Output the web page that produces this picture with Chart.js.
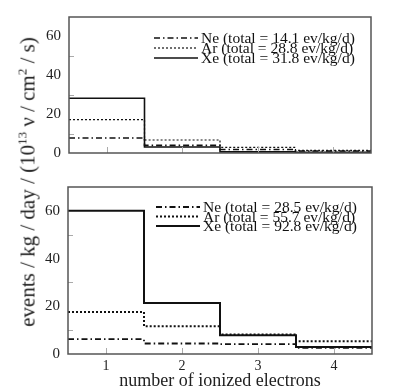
<!DOCTYPE html>
<html>
<head>
<meta charset="utf-8">
<script src="https://cdn.jsdelivr.net/npm/chart.js@4.4.0/dist/chart.umd.min.js"></script>
<style>
  body { margin: 0; background: #fff; width: 415px; height: 392px; position: relative; overflow: hidden; }
  canvas { position: absolute; left: 0; }
  #topChart { top: 0; }
  #bottomChart { top: 170px; }
  #ytitle {
    position: absolute; left: 28px; top: 182px;
    transform: translate(-50%, -50%) rotate(-90deg);
    white-space: nowrap; font: 21px 'Liberation Serif', serif; color: #222;
  }
  #ytitle sup { font-size: 13px; line-height: 0; }
</style>
</head>
<body>
<canvas id="topChart" width="415" height="170"></canvas>
<canvas id="bottomChart" width="415" height="222"></canvas>
<div id="ytitle">events / kg / day / (10<sup>13</sup> ν / cm<sup>2</sup> / s)</div>
<script>
// bins (number of ionized electrons)
const bins = [1, 2, 3, 4];

// top panel
const topNe = [7.7, 3.9, 1.8, 1.0];
const topAr = [17.2, 6.7, 2.9, 1.3];
const topXe = [28.2, 3.1, 0.6, 0.3];
const topLabels = ['Ne (total = 14.1 ev/kg/d)', 'Ar (total = 28.8 ev/kg/d)', 'Xe (total = 31.8 ev/kg/d)'];

// bottom panel
const botNe = [6.2, 4.4, 4.1, 2.6];
const botAr = [17.6, 11.6, 8.2, 5.3];
const botXe = [60, 21.4, 7.9, 2.9];
const botLabels = ['Ne (total = 28.5 ev/kg/d)', 'Ar (total = 55.7 ev/kg/d)', 'Xe (total = 92.8 ev/kg/d)'];

const yTicks = [0, 20, 40, 60];

Chart.defaults.font.family = "'Liberation Serif', serif";
Chart.defaults.color = '#222';

// histogram steps: each value held over [bin-0.5, bin+0.5]
function steps(vals) {
    const pts = bins.map((b, i) => ({ x: b - 0.5, y: vals[i] }));
    pts.push({ x: bins[bins.length - 1] + 0.5, y: vals[vals.length - 1] });
    return pts;
}

function makeSet(label, vals, dash, width) {
    return {
        label: label,
        data: steps(vals),
        borderColor: '#111',
        borderWidth: width,
        borderDash: dash,
        stepped: true,
        pointRadius: 0,
        fill: false
    };
}

// frame, inward ticks and legend drawn inside the plot box
const framePlugin = {
    id: 'frame',
    afterDraw(chart, args, opts) {
        const c = chart.ctx;
        const a = chart.chartArea;
        const xs = chart.scales.x, ys = chart.scales.y;
        c.save();
        // tick marks
        c.strokeStyle = '#aaa';
        c.lineWidth = 1;
        c.setLineDash([]);
        bins.forEach(b => {
            const px = Math.round(xs.getPixelForValue(b)) + 0.5;
            c.beginPath(); c.moveTo(px, a.bottom); c.lineTo(px, a.bottom - 6); c.stroke();
        });
        [10, 30, 50].forEach(v => {
            const py = Math.round(ys.getPixelForValue(v)) + 0.5;
            c.beginPath(); c.moveTo(a.left, py); c.lineTo(a.left + 5, py); c.stroke();
        });
        // frame
        c.strokeStyle = '#555';
        c.lineWidth = 1.5;
        c.strokeRect(a.left, a.top, a.right - a.left, a.bottom - a.top);
        // legend
        c.font = opts.fontSize + "px 'Liberation Serif', serif";
        c.fillStyle = '#111';
        c.textBaseline = 'middle';
        chart.data.datasets.forEach((ds, i) => {
            const y = a.top + opts.top + i * opts.gap;
            const x0 = a.left + opts.left;
            c.strokeStyle = '#111';
            c.lineWidth = ds.borderWidth;
            c.setLineDash(ds.borderDash);
            c.beginPath(); c.moveTo(x0, y); c.lineTo(x0 + 44, y); c.stroke();
            c.setLineDash([]);
            c.fillText(ds.label, x0 + 47, y + 1);
        });
        c.restore();
    }
};

function makeChart(id, ne, ar, xe, labels, cfg) {
    new Chart(document.getElementById(id), {
        type: 'line',
        data: {
            datasets: [
                makeSet(labels[0], ne, [6, 3, 1.5, 3], cfg.neW),
                makeSet(labels[1], ar, [2, 2], cfg.arW),
                makeSet(labels[2], xe, [], cfg.xeW)
            ]
        },
        options: {
            responsive: false,
            animation: false,
            devicePixelRatio: 1,
            layout: { padding: { top: cfg.padTop, right: cfg.padRight, left: 0, bottom: 0 } },
            plugins: {
                legend: { display: false },
                tooltip: { enabled: false },
                frame: cfg.legend
            },
            scales: {
                x: {
                    type: 'linear',
                    min: 0.5,
                    max: 4.5,
                    grid: { display: false, drawTicks: false },
                    border: { display: false },
                    afterBuildTicks: s => { s.ticks = bins.map(v => ({ value: v })); },
                    ticks: {
                        display: cfg.showX,
                        autoSkip: false,
                        maxRotation: 0,
                        padding: 4,
                        font: { size: 14 }
                    },
                    title: {
                        display: cfg.showX,
                        text: 'number of ionized electrons',
                        font: { size: 18 },
                        padding: { top: 0, bottom: 0 }
                    },
                    afterFit: s => { s.height = cfg.xHeight; }
                },
                y: {
                    min: 0,
                    max: 70,
                    grid: { display: false, drawTicks: false },
                    border: { display: false },
                    ticks: {
                        stepSize: 10,
                        padding: 8,
                        font: { size: 15 },
                        callback: v => yTicks.includes(v) ? v : ''
                    },
                    afterFit: s => { s.width = cfg.yWidth; }
                }
            }
        },
        plugins: [framePlugin]
    });
}

makeChart('topChart', topNe, topAr, topXe, topLabels, {
    neW: 1.6, arW: 1.2, xeW: 1.6,
    padTop: 8, padRight: 44, xHeight: 5, yWidth: 69, showX: false,
    legend: { left: 85, top: 21, gap: 10, fontSize: 15.5 }
});

makeChart('bottomChart', botNe, botAr, botXe, botLabels, {
    neW: 1.8, arW: 2, xeW: 2,
    padTop: 7, padRight: 43, xHeight: 38, yWidth: 68, showX: true,
    legend: { left: 88, top: 20, gap: 9.5, fontSize: 15.5 }
});
</script>
</body>
</html>
